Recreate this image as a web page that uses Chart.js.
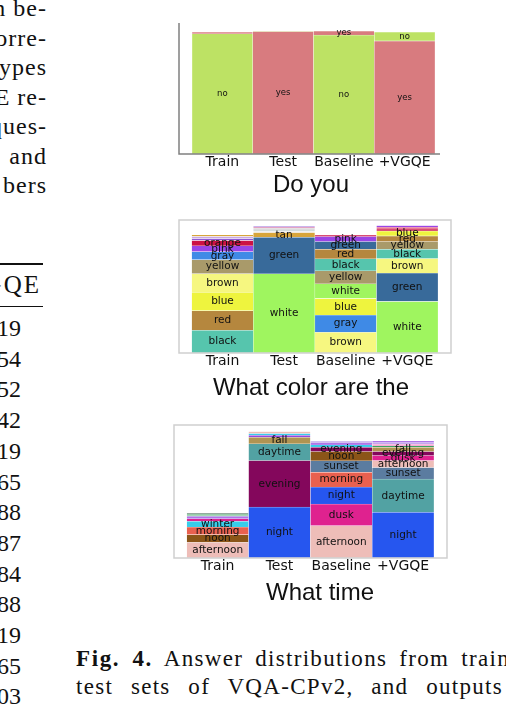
<!DOCTYPE html>
<html lang="en">
<head>
<meta charset="UTF-8" />
<title>Answer distributions</title>
<script src="https://cdn.jsdelivr.net/npm/chart.js@4.4.0/dist/chart.umd.min.js"></script>
<style>
  *, *::before, *::after { box-sizing: border-box; margin: 0; padding: 0; }
  html, body { width: 506px; height: 704px; overflow: hidden; background: #fff; }
  body { position: relative; font-family: 'Liberation Serif', serif; color: #111; }

  /* page text around the figure */
  .col { position: absolute; right: 459px; white-space: nowrap; font-size: 24px; line-height: 30px; letter-spacing: 1px; }
  .num { position: absolute; right: 485px; white-space: nowrap; font-size: 24px; line-height: 30px; }
  .head { right: 465px; font-size: 25px; letter-spacing: 2px; }
  .rule { position: absolute; left: 0; width: 43px; background: #111; }
  .cap { position: absolute; left: 76px; width: 434px; font-size: 23px; line-height: 28px;
         white-space: nowrap; text-align: justify; text-align-last: justify; letter-spacing: 1.3px; }
  .cap b { letter-spacing: 1.6px; }

  /* chart titles */
  .title { position: absolute; width: 300px; text-align: center; font-family: 'Liberation Sans', sans-serif;
           font-size: 24px; line-height: 24px; color: #111; }
  canvas { position: absolute; }
</style>
</head>
<body>

<!-- left column (cut off by the crop) -->
<div class="col" style="top:-7px">n be-</div>
<div class="col" style="top:23px">orre-</div>
<div class="col" style="top:52px">ypes</div>
<div class="col" style="top:82px">E re-</div>
<div class="col" style="top:111px">ques-</div>
<div class="col" style="top:141px">and</div>
<div class="col" style="top:170px">bers</div>

<div class="rule" style="top:263px;height:1.5px"></div>
<div class="num head" style="top:270px">+VGQE</div>
<div class="rule" style="top:306px;height:1px"></div>
<div id="nums"></div>

<div class="cap" style="top:645px"><b>Fig. 4.</b> Answer distributions from train</div>
<div class="cap" style="top:673px;width:427px">test sets of VQA-CPv2, and outputs</div>

<!-- the three panels -->
<canvas id="doYou"  width="265" height="155" style="left:177px;top:21px"></canvas>
<div class="title" style="left:161px;top:172px">Do you</div>

<canvas id="color"  width="276" height="157" style="left:177px;top:218px"></canvas>
<div class="title" style="left:161px;top:375px">What color are the</div>

<canvas id="time"   width="277" height="157" style="left:172px;top:423px"></canvas>
<div class="title" style="left:170px;top:580px">What time</div>

<script>
// column of numbers from the table on the left
const tableNums = ['19','54','52','42','19','65','88','87','84','88','19','65','03'];

const bars = ['Train', 'Test', 'Baseline', '+VGQE'];

// "Do you" - answers per bar, bottom to top (% of answers)
const doYouNames  = [['no','yes'], ['yes','no'], ['no','yes'], ['yes','no']];
const doYouValues = [[97.6, 1.6], [99.6, 0.4], [96.7, 3.3], [91.9, 7.3]];

// "What color are the" - answers per bar, bottom to top
const colorNames = [
  ['black','red','blue','brown','yellow','gray','pink','orange','purple','beige','tan'],
  ['white','green','tan','black and white','silver','gray and white','pink and white','purple'],
  ['brown','gray','blue','white','yellow','black','red','green','pink','orange'],
  ['white','green','brown','black','yellow','red','blue','orange','maroon','pink'],
];
const colorValues = [
  [17.0, 14.8, 13.8, 14.0, 10.5, 6.0, 4.5, 4.0, 1.5, 1.5, 1.3],
  [59.5, 27.5, 3.5, 1.2, 0.8, 1.2, 1.2, 0.8],
  [15.5, 13.0, 12.5, 11.0, 9.75, 9.0, 7.25, 5.75, 3.75, 1.25],
  [38.75, 21.25, 11.0, 7.0, 5.75, 4.25, 3.75, 1.5, 1.25, 1.25],
];

// "What time" - answers per bar, bottom to top
const timeNames = [
  ['afternoon','noon','morning','winter','dusk','summer','spring','dawn','sunrise'],
  ['night','evening','daytime','fall','summer','winter','afternoon'],
  ['afternoon','dusk','night','morning','sunset','noon','evening','winter','summer','spring'],
  ['night','daytime','sunset','afternoon','dusk','evening','fall','dawn','lunch time','spring','summer'],
];
const timeValues = [
  [11.75, 5.75, 5.75, 4.25, 2.0, 1.25, 1.0, 1.0, 1.0],
  [38.25, 35.0, 12.5, 5.0, 1.5, 1.25, 1.5],
  [24.25, 16.25, 12.75, 11.25, 8.5, 7.0, 3.25, 1.75, 1.5, 1.5],
  [34.25, 25.0, 8.75, 5.25, 3.75, 3.0, 3.25, 1.0, 1.25, 1.25, 1.25],
];

const doYouColors = { no: '#bde264', yes: '#d87b7f' };
const colorColors = {
  black: '#56c5ad', red: '#b5873e', blue: '#eef43e', brown: '#f6f780', yellow: '#a99a6a',
  gray: '#3f8ae6', pink: '#9a45e6', orange: '#cc1244', white: '#9ff55f', green: '#386a9a',
  tan: '#d7a53b', purple: '#8e5ad6', beige: '#c9a8e2', 'black and white': '#ececec',
  silver: '#9fb5b5', 'gray and white': '#cfcfcf', 'pink and white': '#e3a3c4', maroon: '#e0486a',
};
const timeColors = {
  afternoon: '#eebdb8', noon: '#8b5518', morning: '#e9604f', winter: '#38cdea', night: '#2656ef',
  evening: '#84075c', daytime: '#52a2a3', fall: '#b09452', dusk: '#df228f', sunset: '#5b7ca0',
  summer: '#9447e0', spring: '#c2a9ec', dawn: '#3ba35e', sunrise: '#708f7e', 'lunch time': '#f27fc3',
};

document.getElementById('nums').innerHTML = tableNums
  .map((n, i) => `<div class="num" style="top:${313 + i * 30.7}px">${n}</div>`).join('');

// one dataset per rank, so each bar keeps its own bottom-to-top order
function layers(names, values, colors) {
  const depth = Math.max(...names.map(n => n.length));
  const sets = [];
  for (let k = 0; k < depth; k++) {
    sets.push({
      data: values.map((v, i) => ({ x: i, y: v[k] ?? 0 })),
      names: names.map(n => n[k] || ''),
      backgroundColor: names.map(n => colors[n[k]] || 'rgba(0,0,0,0)'),
      borderColor: 'rgba(255,255,255,0.45)',
      borderWidth: 0.5,
      borderSkipped: false,
      barPercentage: 1,
      categoryPercentage: 1,
      stack: 'all',
    });
  }
  return sets;
}

// answer names written inside the segments that are tall enough
const segLabels = {
  id: 'segLabels',
  afterDatasetsDraw(chart, args, opts) {
    const ctx = chart.ctx;
    ctx.save();
    ctx.font = opts.font;
    ctx.fillStyle = '#111';
    ctx.textAlign = 'center';
    ctx.textBaseline = 'middle';
    chart.data.datasets.forEach((ds, d) => {
      chart.getDatasetMeta(d).data.forEach((el, i) => {
        const { x, y, base } = el.getProps(['x', 'y', 'base'], true);
        if (ds.names[i] && base - y >= 3.8) ctx.fillText(ds.names[i], x, (y + base) / 2);
      });
    });
    ctx.restore();
  },
};

// axis spines / box
const frame = {
  id: 'frame',
  afterDatasetsDraw(chart, args, opts) {
    const { ctx, chartArea: a } = chart;
    ctx.save();
    ctx.strokeStyle = opts.color;
    ctx.lineWidth = opts.width;
    ctx.beginPath();
    if (opts.box) {
      ctx.rect(a.left, a.top, a.right - a.left, a.bottom - a.top);
    } else {
      ctx.moveTo(a.left, a.top);
      ctx.lineTo(a.left, a.bottom);
      ctx.lineTo(a.right, a.bottom);
    }
    ctx.stroke();
    ctx.restore();
  },
};

function panel(id, names, values, colors, o) {
  new Chart(document.getElementById(id), {
    type: 'bar',
    data: { datasets: layers(names, values, colors) },
    plugins: [segLabels, frame],
    options: {
      responsive: false,
      animation: false,
      layout: { padding: 2 },
      plugins: {
        legend: { display: false },
        tooltip: { enabled: false },
        segLabels: { font: o.labelFont },
        frame: o.frame,
      },
      scales: {
        x: {
          type: 'linear', stacked: true, offset: false,
          min: o.xMin, max: o.xMax,
          afterBuildTicks: s => { s.ticks = bars.map((_, i) => ({ value: i })); },
          afterFit: s => { s.height = 20; },
          grid: { display: false, drawTicks: false },
          border: { display: false },
          ticks: {
            callback: v => bars[v], padding: 0, maxRotation: 0, autoSkip: false,
            color: '#111', font: { family: 'DejaVu Sans', size: 14 },
          },
        },
        y: {
          stacked: true, min: 0, max: o.yMax,
          afterFit: s => { s.width = 0; },
          grid: { display: false, drawTicks: false },
          border: { display: false },
          ticks: { display: false },
        },
      },
    },
  });
}

panel('doYou', doYouNames, doYouValues, doYouColors, {
  xMin: -0.714, xMax: 3.582, yMax: 106.5,
  labelFont: '8.5px "DejaVu Sans"',
  frame: { box: false, color: '#808080', width: 1.5 },
});
panel('color', colorNames, colorValues, colorColors, {
  xMin: -0.706, xMax: 3.71, yMax: 100,
  labelFont: '10.5px "DejaVu Sans"',
  frame: { box: true, color: '#d0d0d0', width: 1.5 },
});
panel('time', timeNames, timeValues, timeColors, {
  xMin: -0.706, xMax: 3.71, yMax: 100,
  labelFont: '10.5px "DejaVu Sans"',
  frame: { box: true, color: '#d0d0d0', width: 1.5 },
});
</script>
</body>
</html>
